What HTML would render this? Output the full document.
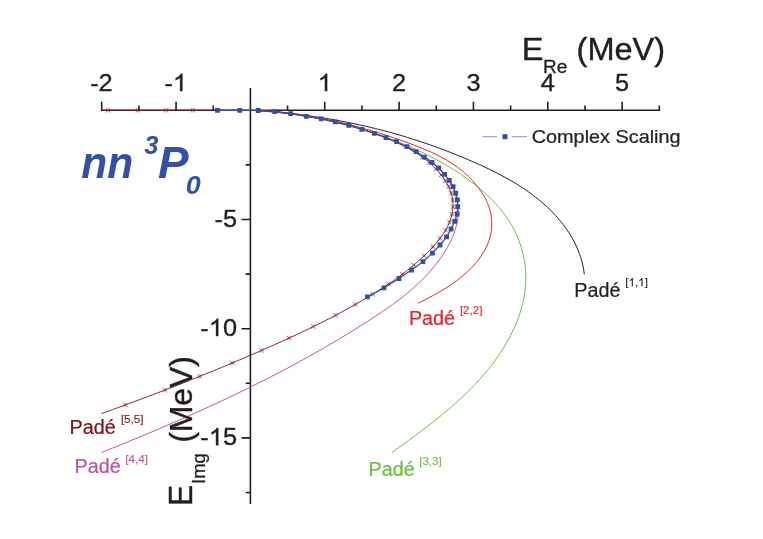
<!DOCTYPE html>
<html><head><meta charset="utf-8"><title>nn 3P0 resonance trajectory</title>
<style>html,body{margin:0;padding:0;background:#fff;}svg{display:block;will-change:transform;font-family:"Liberation Sans",sans-serif;}text{font-family:"Liberation Sans",sans-serif;}</style></head><body>
<svg width="763" height="539" viewBox="0 0 763 539">
<rect width="763" height="539" fill="#fff"/>
<g stroke="#231f20" stroke-width="1.60" fill="none" stroke-linecap="butt">
<path d="M100.90 110.30 H660.12"/>
<path d="M250.40 88.02 V504.08"/>
<path d="M101.70 110.30 v-8.60M138.88 110.30 v-4.80M176.05 110.30 v-8.60M213.23 110.30 v-4.80M287.57 110.30 v-4.80M324.75 110.30 v-8.60M361.93 110.30 v-4.80M399.10 110.30 v-8.60M436.27 110.30 v-4.80M473.45 110.30 v-8.60M510.62 110.30 v-4.80M547.80 110.30 v-8.60M584.98 110.30 v-4.80M622.15 110.30 v-8.60M659.32 110.30 v-4.80"/>
<path d="M250.40 164.90 h-4.80M250.40 219.50 h-8.80M250.40 274.10 h-4.80M250.40 328.70 h-8.80M250.40 383.30 h-4.80M250.40 437.90 h-8.80M250.40 492.50 h-4.80"/>
</g>
<g fill="none" stroke-width="1.00" stroke-linejoin="round">
<path stroke="#231f20" d="M250.4 110.3L253.4 110.5L256.4 110.6L259.5 110.8L262.5 111.0L265.5 111.2L268.5 111.5L271.5 111.7L274.6 112.0L277.6 112.2L280.6 112.5L283.6 112.8L286.6 113.1L289.6 113.4L292.6 113.8L295.6 114.1L298.6 114.5L301.6 114.8L304.6 115.2L307.6 115.6L310.6 116.0L313.5 116.5L316.5 116.9L319.5 117.4L322.5 117.8L325.5 118.3L328.4 118.8L331.4 119.3L334.4 119.8L337.3 120.4L340.3 120.9L343.3 121.5L346.2 122.1L349.2 122.7L352.1 123.3L355.1 123.9L358.0 124.5L360.9 125.2L363.9 125.8L366.8 126.5L369.8 127.2L372.7 127.9L375.6 128.6L378.5 129.4L381.4 130.1L384.4 130.9L387.3 131.6L390.2 132.4L393.1 133.2L396.0 134.1L398.9 134.9L401.8 135.7L404.7 136.6L407.6 137.5L410.4 138.4L413.3 139.3L416.2 140.2L419.1 141.1L421.9 142.1L424.8 143.0L427.7 144.0L430.5 145.0L433.4 146.0L436.2 147.0L439.1 148.1L441.9 149.1L444.7 150.2L447.6 151.3L450.4 152.4L453.2 153.5L456.0 154.6L458.8 155.8L461.7 156.9L464.5 158.1L467.3 159.3L470.1 160.5L472.8 161.7L475.6 162.9L478.4 164.2L481.2 165.4L484.0 166.7L486.7 168.0L489.5 169.3L492.2 170.7L494.9 172.0L497.6 173.4L500.3 174.8L503.0 176.3L505.7 177.7L508.3 179.2L511.0 180.7L513.6 182.2L516.2 183.8L518.7 185.4L521.3 187.0L523.8 188.6L526.3 190.3L528.7 192.0L531.2 193.8L533.6 195.6L535.9 197.4L538.3 199.3L540.6 201.2L542.9 203.1L545.1 205.1L547.3 207.1L549.4 209.1L551.6 211.2L553.6 213.4L555.7 215.6L557.7 217.8L559.6 220.1L561.5 222.4L563.4 224.8L565.2 227.2L566.9 229.6L568.6 232.1L570.2 234.7L571.7 237.3L573.2 239.9L574.6 242.5L575.9 245.2L577.2 248.0L578.3 250.8L579.4 253.6L580.4 256.4L581.3 259.3L582.1 262.2L582.8 265.2L583.4 268.2L583.9 271.2L584.3 274.3"/>
<path stroke="#6cbd45" d="M250.4 110.3L253.4 110.4L256.4 110.5L259.4 110.7L262.5 110.8L265.5 111.0L268.5 111.2L271.5 111.5L274.5 111.7L277.5 112.0L280.4 112.3L283.4 112.6L286.4 113.0L289.4 113.3L292.4 113.7L295.3 114.1L298.3 114.6L301.3 115.0L304.2 115.5L307.2 116.0L310.1 116.5L313.1 117.0L316.0 117.6L319.0 118.1L321.9 118.7L324.8 119.4L327.7 120.0L330.7 120.6L333.6 121.3L336.5 122.0L339.4 122.7L342.3 123.5L345.2 124.2L348.1 125.0L350.9 125.8L353.8 126.6L356.7 127.4L359.6 128.3L362.4 129.2L365.3 130.1L368.1 131.0L371.0 131.9L373.8 132.8L376.6 133.8L379.5 134.8L382.3 135.8L385.1 136.8L387.9 137.9L390.7 138.9L393.5 140.0L396.3 141.1L399.1 142.2L401.8 143.4L404.6 144.5L407.4 145.7L410.1 146.9L412.9 148.1L415.6 149.3L418.3 150.6L421.0 151.8L423.7 153.1L426.4 154.5L429.1 155.8L431.8 157.2L434.5 158.6L437.1 160.0L439.8 161.4L442.4 162.9L445.0 164.4L447.6 166.0L450.2 167.5L452.8 169.1L455.3 170.7L457.9 172.4L460.4 174.1L462.9 175.8L465.4 177.5L467.9 179.3L470.4 181.1L472.8 183.0L475.2 184.8L477.6 186.8L480.0 188.7L482.3 190.7L484.5 192.7L486.8 194.8L489.0 196.8L491.1 199.0L493.3 201.1L495.3 203.3L497.3 205.6L499.3 207.8L501.2 210.1L503.1 212.5L504.9 214.8L506.6 217.3L508.2 219.7L509.8 222.2L511.4 224.7L512.8 227.3L514.2 229.9L515.5 232.6L516.7 235.3L517.9 238.0L519.0 240.7L520.0 243.5L520.9 246.3L521.8 249.1L522.5 251.9L523.2 254.8L523.8 257.7L524.4 260.6L524.8 263.5L525.2 266.4L525.5 269.4L525.7 272.3L525.8 275.3L525.8 278.2L525.8 281.2L525.6 284.2L525.4 287.1L525.1 290.1L524.7 293.0L524.3 296.0L523.7 298.9L523.1 301.8L522.4 304.7L521.6 307.6L520.8 310.5L519.9 313.4L518.9 316.2L517.9 319.1L516.8 321.9L515.6 324.7L514.4 327.5L513.1 330.2L511.8 332.9L510.5 335.6L509.1 338.3L507.6 341.0L506.1 343.6L504.6 346.2L503.0 348.7L501.4 351.3L499.8 353.8L498.1 356.3L496.4 358.7L494.6 361.1L492.8 363.6L491.0 365.9L489.1 368.3L487.2 370.6L485.3 372.9L483.4 375.2L481.4 377.5L479.4 379.8L477.3 382.0L475.3 384.2L473.2 386.4L471.1 388.5L468.9 390.7L466.8 392.8L464.6 394.9L462.4 397.0L460.2 399.0L457.9 401.1L455.7 403.1L453.4 405.1L451.1 407.1L448.8 409.1L446.5 411.1L444.2 413.0L441.8 414.9L439.5 416.9L437.1 418.8L434.7 420.6L432.4 422.5L430.0 424.4L427.6 426.2L425.2 428.0L422.8 429.9L420.4 431.7L418.0 433.5L415.6 435.3L413.2 437.0L410.8 438.8L408.4 440.6L406.0 442.3L403.6 444.0L401.2 445.8L398.8 447.5L396.4 449.2L394.1 450.9L391.7 452.6"/>
<path stroke="#e8232b" d="M250.4 110.3L253.5 110.4L256.5 110.5L259.6 110.6L262.7 110.8L265.7 110.9L268.7 111.1L271.8 111.3L274.8 111.6L277.8 111.8L280.8 112.1L283.8 112.4L286.7 112.8L289.7 113.1L292.7 113.5L295.6 113.9L298.6 114.3L301.6 114.7L304.5 115.2L307.4 115.6L310.4 116.1L313.3 116.6L316.2 117.1L319.1 117.7L322.0 118.3L324.9 118.8L327.8 119.5L330.7 120.1L333.6 120.7L336.5 121.4L339.4 122.0L342.3 122.7L345.2 123.5L348.1 124.2L351.0 124.9L353.8 125.7L356.7 126.5L359.6 127.3L362.5 128.1L365.3 128.9L368.2 129.7L371.1 130.6L374.0 131.5L376.8 132.3L379.7 133.2L382.6 134.2L385.5 135.1L388.4 136.0L391.2 137.0L394.1 138.0L397.0 138.9L399.9 139.9L402.8 140.9L405.7 142.0L408.6 143.0L411.4 144.1L414.3 145.2L417.2 146.3L420.0 147.4L422.9 148.6L425.7 149.8L428.5 151.0L431.3 152.2L434.0 153.5L436.8 154.9L439.5 156.2L442.1 157.7L444.8 159.1L447.4 160.6L449.9 162.2L452.4 163.8L454.9 165.5L457.4 167.2L459.7 169.0L462.1 170.8L464.3 172.7L466.6 174.6L468.7 176.7L470.8 178.8L472.9 180.9L474.9 183.2L476.8 185.5L478.6 187.9L480.3 190.3L482.0 192.8L483.6 195.4L485.0 198.0L486.4 200.7L487.6 203.4L488.6 206.2L489.6 209.0L490.4 211.8L491.0 214.7L491.4 217.6L491.7 220.5L491.8 223.4L491.7 226.3L491.5 229.3L491.1 232.2L490.5 235.0L489.8 237.9L488.9 240.7L487.9 243.5L486.7 246.2L485.4 248.9L484.0 251.5L482.4 254.1L480.8 256.6L479.0 259.1L477.1 261.5L475.1 263.8L473.1 266.1L470.9 268.4L468.7 270.5L466.4 272.7L464.1 274.7L461.7 276.7L459.3 278.7L456.8 280.6L454.3 282.4L451.7 284.2L449.2 285.9L446.6 287.6L444.0 289.2L441.4 290.8L438.8 292.3L436.2 293.8L433.6 295.2L431.0 296.6L428.4 298.0L425.8 299.4L423.2 300.7L420.7 302.0L418.2 303.3"/>
<path stroke="#bd52a3" stroke-width="1.0" d="M250.4 110.3L253.4 110.5L256.5 110.7L259.5 110.9L262.6 111.2L265.6 111.4L268.6 111.7L271.6 111.9L274.6 112.2L277.6 112.5L280.6 112.8L283.6 113.2L286.6 113.5L289.5 113.9L292.5 114.3L295.5 114.7L298.4 115.1L301.4 115.5L304.3 116.0L307.3 116.5L310.2 116.9L313.1 117.5L316.1 118.0L319.0 118.5L321.9 119.1L324.8 119.7L327.7 120.3L330.6 120.9L333.5 121.6L336.4 122.2L339.3 122.9L342.2 123.6L345.1 124.4L348.0 125.1L350.9 125.9L353.7 126.7L356.6 127.6L359.5 128.4L362.3 129.3L365.2 130.2L368.0 131.1L370.9 132.1L373.7 133.1L376.6 134.1L379.4 135.1L382.3 136.2L385.1 137.3L388.0 138.4L390.8 139.5L393.6 140.7L396.4 141.9L399.3 143.1L402.1 144.4L404.9 145.7L407.7 147.0L410.4 148.4L413.2 149.8L415.9 151.3L418.6 152.8L421.2 154.4L423.8 156.0L426.3 157.7L428.8 159.4L431.2 161.2L433.5 163.1L435.8 165.1L437.9 167.1L440.0 169.2L442.1 171.3L444.0 173.6L445.8 175.9L447.5 178.4L449.1 180.9L450.6 183.4L452.0 186.0L453.2 188.7L454.4 191.4L455.4 194.2L456.2 197.0L456.9 199.8L457.5 202.7L457.8 205.6L458.1 208.4L458.2 211.3L458.1 214.2L457.9 217.0L457.5 219.9L457.0 222.8L456.3 225.6L455.6 228.4L454.7 231.3L453.7 234.1L452.6 236.9L451.4 239.6L450.1 242.4L448.7 245.1L447.2 247.8L445.6 250.5L444.0 253.1L442.2 255.7L440.5 258.3L438.6 260.8L436.7 263.3L434.8 265.7L432.8 268.1L430.8 270.5L428.8 272.8L426.7 275.0L424.6 277.3L422.5 279.4L420.3 281.6L418.1 283.7L415.9 285.7L413.7 287.7L411.4 289.7L409.1 291.7L406.8 293.6L404.5 295.5L402.1 297.3L399.8 299.1L397.4 300.9L395.0 302.7L392.6 304.5L390.1 306.2L387.7 307.9L385.3 309.6L382.8 311.3L380.3 313.0L377.8 314.7L375.3 316.3L372.8 318.0L370.3 319.6L367.8 321.2L365.3 322.8L362.8 324.4L360.3 326.0L357.7 327.6L355.2 329.2L352.7 330.8L350.1 332.4L347.6 333.9L345.0 335.5L342.5 337.0L339.9 338.6L337.3 340.1L334.7 341.7L332.2 343.2L329.6 344.7L327.0 346.2L324.4 347.7L321.8 349.2L319.2 350.7L316.6 352.2L313.9 353.7L311.3 355.1L308.7 356.6L306.1 358.0L303.4 359.5L300.8 360.9L298.2 362.4L295.5 363.8L292.9 365.2L290.2 366.7L287.6 368.1L284.9 369.5L282.3 370.9L279.6 372.3L276.9 373.7L274.2 375.1L271.6 376.4L268.9 377.8L266.2 379.2L263.5 380.5L260.8 381.9L258.1 383.2L255.4 384.6L252.7 385.9L250.0 387.3L247.3 388.6L244.6 389.9L241.9 391.2L239.2 392.6L236.5 393.9L233.8 395.2L231.0 396.5L228.3 397.8L225.6 399.0L222.9 400.3L220.1 401.6L217.4 402.9L214.7 404.1L211.9 405.4L209.2 406.7L206.4 407.9L203.7 409.2L201.0 410.4L198.2 411.7L195.5 412.9L192.7 414.1L190.0 415.4L187.2 416.6L184.4 417.8L181.7 419.0L178.9 420.2L176.2 421.4L173.4 422.6L170.6 423.8L167.9 425.0L165.1 426.2L162.4 427.4L159.6 428.6L156.8 429.8L154.1 430.9L151.3 432.1L148.5 433.3L145.8 434.4L143.0 435.6L140.2 436.7L137.4 437.9L134.7 439.1L131.9 440.2L129.1 441.3L126.4 442.5L123.6 443.6L120.8 444.8L118.0 445.9L115.3 447.0L112.5 448.1L109.7 449.3L106.9 450.4L104.2 451.5L101.4 452.6"/>
<path stroke="#7e1016" stroke-width="0.9" d="M101.7 110.3 L250.4 110.3L253.4 110.4L256.4 110.5L259.4 110.7L262.4 110.8L265.4 111.0L268.4 111.3L271.4 111.5L274.3 111.8L277.3 112.1L280.3 112.4L283.3 112.8L286.3 113.1L289.3 113.5L292.2 113.9L295.2 114.4L298.2 114.8L301.1 115.3L304.1 115.8L307.1 116.3L310.0 116.8L313.0 117.4L315.9 118.0L318.9 118.5L321.8 119.2L324.8 119.8L327.7 120.4L330.6 121.1L333.5 121.8L336.5 122.5L339.4 123.2L342.3 123.9L345.2 124.7L348.1 125.4L351.0 126.2L353.9 127.0L356.8 127.8L359.6 128.7L362.5 129.6L365.4 130.5L368.2 131.4L371.0 132.3L373.9 133.3L376.7 134.3L379.5 135.4L382.3 136.4L385.1 137.6L387.9 138.7L390.6 139.8L393.4 141.1L396.1 142.3L398.8 143.6L401.5 144.9L404.2 146.2L406.9 147.6L409.5 149.1L412.1 150.6L414.7 152.1L417.2 153.7L419.7 155.4L422.2 157.1L424.6 158.9L427.0 160.7L429.3 162.7L431.6 164.6L433.8 166.7L435.9 168.9L438.0 171.1L440.0 173.4L441.9 175.8L443.7 178.2L445.3 180.8L446.9 183.3L448.3 186.0L449.5 188.7L450.6 191.4L451.5 194.2L452.2 197.1L452.7 200.0L452.9 202.9L453.0 205.8L452.8 208.8L452.4 211.7L451.9 214.7L451.1 217.6L450.2 220.4L449.1 223.2L447.9 225.9L446.5 228.6L445.0 231.2L443.3 233.7L441.6 236.2L439.8 238.6L437.9 241.0L436.0 243.4L433.9 245.7L431.9 247.9L429.8 250.1L427.7 252.3L425.6 254.4L423.4 256.5L421.2 258.6L419.0 260.6L416.7 262.6L414.5 264.6L412.2 266.5L409.9 268.4L407.5 270.3L405.2 272.1L402.8 273.9L400.4 275.7L398.0 277.5L395.5 279.3L393.1 281.0L390.6 282.7L388.1 284.4L385.6 286.0L383.1 287.6L380.6 289.3L378.1 290.9L375.5 292.5L373.0 294.0L370.4 295.6L367.9 297.2L365.3 298.7L362.7 300.2L360.1 301.7L357.5 303.2L354.9 304.7L352.3 306.2L349.7 307.6L347.1 309.1L344.4 310.5L341.8 312.0L339.2 313.4L336.5 314.8L333.9 316.2L331.2 317.6L328.5 319.0L325.9 320.3L323.2 321.7L320.5 323.0L317.8 324.4L315.1 325.7L312.4 327.0L309.7 328.3L307.0 329.7L304.3 330.9L301.6 332.2L298.9 333.5L296.2 334.8L293.4 336.1L290.7 337.3L288.0 338.6L285.2 339.8L282.5 341.1L279.8 342.3L277.0 343.6L274.3 344.8L271.5 346.0L268.8 347.2L266.0 348.4L263.3 349.7L260.5 350.9L257.8 352.1L255.0 353.3L252.3 354.5L249.5 355.6L246.8 356.8L244.0 358.0L241.2 359.2L238.5 360.4L235.7 361.5L232.9 362.7L230.2 363.9L227.4 365.0L224.6 366.2L221.9 367.3L219.1 368.5L216.3 369.6L213.5 370.8L210.8 371.9L208.0 373.0L205.2 374.2L202.4 375.3L199.6 376.4L196.9 377.5L194.1 378.6L191.3 379.7L188.5 380.9L185.7 382.0L182.9 383.1L180.1 384.2L177.3 385.3L174.5 386.3L171.7 387.4L169.0 388.5L166.2 389.6L163.4 390.7L160.6 391.7L157.7 392.8L154.9 393.9L152.1 395.0L149.3 396.0L146.5 397.1L143.7 398.1L140.9 399.2L138.1 400.2L135.3 401.3L132.5 402.3L129.6 403.4L126.8 404.4L124.0 405.4L121.2 406.5L118.4 407.5L115.5 408.5L112.7 409.5L109.9 410.6L107.1 411.6L104.2 412.6L101.4 413.6"/>
</g>
<path d="M105.9 108.0l4.6 4.6M105.9 112.6l4.6 -4.6M135.7 108.0l4.6 4.6M135.7 112.6l4.6 -4.6M163.7 108.0l4.6 4.6M163.7 112.6l4.6 -4.6M190.5 108.0l4.6 4.6M190.5 112.6l4.6 -4.6M420.2 155.0l4.6 4.6M420.2 159.6l4.6 -4.6M427.0 160.4l4.6 4.6M427.0 165.0l4.6 -4.6M433.6 166.6l4.6 4.6M433.6 171.2l4.6 -4.6M438.9 172.6l4.6 4.6M438.9 177.2l4.6 -4.6M443.0 178.5l4.6 4.6M443.0 183.1l4.6 -4.6M446.3 184.4l4.6 4.6M446.3 189.0l4.6 -4.6M448.9 190.9l4.6 4.6M448.9 195.5l4.6 -4.6M450.4 197.7l4.6 4.6M450.4 202.3l4.6 -4.6M450.6 204.6l4.6 4.6M450.6 209.2l4.6 -4.6M449.6 212.0l4.6 4.6M449.6 216.6l4.6 -4.6M447.2 219.9l4.6 4.6M447.2 224.5l4.6 -4.6M443.3 227.9l4.6 4.6M443.3 232.5l4.6 -4.6M437.7 236.0l4.6 4.6M437.7 240.6l4.6 -4.6M430.6 244.5l4.6 4.6M430.6 249.1l4.6 -4.6M421.9 253.4l4.6 4.6M421.9 258.0l4.6 -4.6M411.6 262.8l4.6 4.6M411.6 267.4l4.6 -4.6M400.2 271.9l4.6 4.6M400.2 276.5l4.6 -4.6M386.5 281.6l4.6 4.6M386.5 286.2l4.6 -4.6M370.4 291.9l4.6 4.6M370.4 296.5l4.6 -4.6M352.9 302.2l4.6 4.6M352.9 306.8l4.6 -4.6M333.2 313.0l4.6 4.6M333.2 317.6l4.6 -4.6M311.1 324.2l4.6 4.6M311.1 328.8l4.6 -4.6M286.7 335.8l4.6 4.6M286.7 340.4l4.6 -4.6M259.3 348.1l4.6 4.6M259.3 352.7l4.6 -4.6M229.9 360.7l4.6 4.6M229.9 365.3l4.6 -4.6M197.3 374.1l4.6 4.6M197.3 378.7l4.6 -4.6M162.5 387.8l4.6 4.6M162.5 392.4l4.6 -4.6M123.1 402.6l4.6 4.6M123.1 407.2l4.6 -4.6" stroke="#942a30" stroke-width="0.7" fill="none"/>
<path d="M108.2 108.0v4.6M105.9 110.3h4.6M138.0 108.0v4.6M135.7 110.3h4.6M166.0 108.0v4.6M163.7 110.3h4.6M192.8 108.0v4.6M190.5 110.3h4.6M422.5 155.0v4.6M420.2 157.3h4.6M429.3 160.4v4.6M427.0 162.7h4.6M435.9 166.6v4.6M433.6 168.9h4.6M441.2 172.6v4.6M438.9 174.9h4.6M445.3 178.5v4.6M443.0 180.8h4.6M448.6 184.4v4.6M446.3 186.7h4.6M451.2 190.9v4.6M448.9 193.2h4.6M452.7 197.7v4.6M450.4 200.0h4.6M452.9 204.6v4.6M450.6 206.9h4.6M451.9 212.0v4.6M449.6 214.3h4.6M449.5 219.9v4.6M447.2 222.2h4.6M445.6 227.9v4.6M443.3 230.2h4.6M440.0 236.0v4.6M437.7 238.3h4.6M432.9 244.5v4.6M430.6 246.8h4.6M424.2 253.4v4.6M421.9 255.7h4.6M413.9 262.8v4.6M411.6 265.1h4.6M402.5 271.9v4.6M400.2 274.2h4.6M388.8 281.6v4.6M386.5 283.9h4.6M372.7 291.9v4.6M370.4 294.2h4.6M355.2 302.2v4.6M352.9 304.5h4.6M335.5 313.0v4.6M333.2 315.3h4.6M313.4 324.2v4.6M311.1 326.5h4.6M289.0 335.8v4.6M286.7 338.1h4.6M261.6 348.1v4.6M259.3 350.4h4.6M232.2 360.7v4.6M229.9 363.0h4.6M199.6 374.1v4.6M197.3 376.4h4.6M164.8 387.8v4.6M162.5 390.1h4.6M125.4 402.6v4.6M123.1 404.9h4.6" stroke="#942a30" stroke-width="0.4" fill="none" opacity="0.7"/>
<path d="M217.5 110.3L239.8 110.3L258.2 110.5L274.7 111.7L290.6 113.7L306.3 116.4L321.2 118.9L335.4 121.9L348.9 125.4L361.8 129.4L374.3 133.4L386.0 137.6L396.6 141.7L406.9 146.7L416.1 151.6L424.3 157.2L432.0 162.5L438.6 168.0L444.6 174.3L449.3 180.4L453.1 186.6L455.7 193.1L457.4 199.8L457.7 206.7L457.1 214.0L454.7 221.4L451.1 229.0L446.6 236.9L440.0 245.0L432.4 253.1L422.9 261.7L411.5 270.0L399.0 278.5L383.9 287.9L367.4 296.9" stroke="#3350a6" stroke-width="1.2" fill="none" stroke-linejoin="round"/>
<path d="M215.10 107.90h4.80v4.80h-4.80zM237.40 107.90h4.80v4.80h-4.80zM255.80 108.10h4.80v4.80h-4.80zM272.30 109.30h4.80v4.80h-4.80zM288.20 111.30h4.80v4.80h-4.80zM303.90 114.00h4.80v4.80h-4.80zM318.80 116.50h4.80v4.80h-4.80zM333.00 119.50h4.80v4.80h-4.80zM346.50 123.00h4.80v4.80h-4.80zM359.40 127.00h4.80v4.80h-4.80zM371.90 131.00h4.80v4.80h-4.80zM383.60 135.20h4.80v4.80h-4.80zM394.20 139.30h4.80v4.80h-4.80zM404.50 144.30h4.80v4.80h-4.80zM413.70 149.20h4.80v4.80h-4.80zM421.90 154.80h4.80v4.80h-4.80zM429.60 160.10h4.80v4.80h-4.80zM436.20 165.60h4.80v4.80h-4.80zM442.20 171.90h4.80v4.80h-4.80zM446.90 178.00h4.80v4.80h-4.80zM450.70 184.20h4.80v4.80h-4.80zM453.30 190.70h4.80v4.80h-4.80zM455.00 197.40h4.80v4.80h-4.80zM455.30 204.30h4.80v4.80h-4.80zM454.70 211.60h4.80v4.80h-4.80zM452.30 219.00h4.80v4.80h-4.80zM448.70 226.60h4.80v4.80h-4.80zM444.20 234.50h4.80v4.80h-4.80zM437.60 242.60h4.80v4.80h-4.80zM430.00 250.70h4.80v4.80h-4.80zM420.50 259.30h4.80v4.80h-4.80zM409.10 267.60h4.80v4.80h-4.80zM396.60 276.10h4.80v4.80h-4.80zM381.50 285.50h4.80v4.80h-4.80zM365.00 294.50h4.80v4.80h-4.80z" fill="#3350a6"/>
<path d="M482.4 136.7H497.1M512.1 136.7H527.1" stroke="#7f9bd6" stroke-width="1" fill="none"/>
<rect x="502.5" y="134.2" width="5" height="5" fill="#3350a6"/>
<text transform="translate(531.70 143.00) scale(1.0450 1)" font-size="19.00" fill="#231f20" text-anchor="start" stroke="#231f20" stroke-width="0.25">Complex Scaling</text>
<text transform="translate(90.13 91.10) scale(1.0560 1)" font-size="24.00" fill="#231f20" stroke="#231f20" stroke-width="0.35">-2</text>
<text transform="translate(164.48 91.10) scale(1.0560 1)" font-size="24.00" fill="#231f20" stroke="#231f20" stroke-width="0.35">-</text>
<path transform="translate(172.92 91.10) scale(0.01238 -0.01172)" d="M763 0H583V1147Q518 1085 412.5 1023Q307 961 223 930V1104Q374 1175 487 1276Q600 1377 647 1472H763Z" fill="#231f20" stroke="#231f20" stroke-width="29.9"/>
<path transform="translate(317.70 91.10) scale(0.01238 -0.01172)" d="M763 0H583V1147Q518 1085 412.5 1023Q307 961 223 930V1104Q374 1175 487 1276Q600 1377 647 1472H763Z" fill="#231f20" stroke="#231f20" stroke-width="29.9"/>
<text transform="translate(392.05 91.10) scale(1.0560 1)" font-size="24.00" fill="#231f20" stroke="#231f20" stroke-width="0.35">2</text>
<text transform="translate(466.40 91.10) scale(1.0560 1)" font-size="24.00" fill="#231f20" stroke="#231f20" stroke-width="0.35">3</text>
<text transform="translate(540.75 91.10) scale(1.0560 1)" font-size="24.00" fill="#231f20" stroke="#231f20" stroke-width="0.35">4</text>
<text transform="translate(615.10 91.10) scale(1.0560 1)" font-size="24.00" fill="#231f20" stroke="#231f20" stroke-width="0.35">5</text>
<text transform="translate(214.47 226.80) scale(1.0560 1)" font-size="24.00" fill="#231f20" stroke="#231f20" stroke-width="0.35">-5</text>
<text transform="translate(200.37 336.00) scale(1.0560 1)" font-size="24.00" fill="#231f20" stroke="#231f20" stroke-width="0.35">-</text>
<path transform="translate(208.81 336.00) scale(0.01238 -0.01172)" d="M763 0H583V1147Q518 1085 412.5 1023Q307 961 223 930V1104Q374 1175 487 1276Q600 1377 647 1472H763Z" fill="#231f20" stroke="#231f20" stroke-width="29.9"/>
<text transform="translate(222.90 336.00) scale(1.0560 1)" font-size="24.00" fill="#231f20" stroke="#231f20" stroke-width="0.35">0</text>
<text transform="translate(200.37 445.20) scale(1.0560 1)" font-size="24.00" fill="#231f20" stroke="#231f20" stroke-width="0.35">-</text>
<path transform="translate(208.81 445.20) scale(0.01238 -0.01172)" d="M763 0H583V1147Q518 1085 412.5 1023Q307 961 223 930V1104Q374 1175 487 1276Q600 1377 647 1472H763Z" fill="#231f20" stroke="#231f20" stroke-width="29.9"/>
<text transform="translate(222.90 445.20) scale(1.0560 1)" font-size="24.00" fill="#231f20" stroke="#231f20" stroke-width="0.35">5</text>
<text transform="translate(521.80 60.40) scale(1.0560 1)" font-size="30.80" fill="#231f20" text-anchor="start" stroke="#231f20" stroke-width="0.4">E</text>
<text transform="translate(543.10 72.90) scale(1.0560 1)" font-size="18.00" fill="#231f20" text-anchor="start" stroke="#231f20" stroke-width="0.3">Re</text>
<text transform="translate(576.60 60.40) scale(1.0560 1)" font-size="30.80" fill="#231f20" text-anchor="start" stroke="#231f20" stroke-width="0.4">(MeV)</text>
<text transform="translate(192.00 506.00) rotate(-90) scale(1.0300 1.0560)" font-size="30.80" fill="#231f20" stroke="#231f20" stroke-width="0.40">E</text>
<text transform="translate(205.00 484.00) rotate(-90) scale(1.0300 1.0560)" font-size="18.00" fill="#231f20" stroke="#231f20" stroke-width="0.30">Img</text>
<text transform="translate(192.00 442.80) rotate(-90) scale(1.0350 1.0400)" font-size="30.80" fill="#231f20" stroke="#231f20" stroke-width="0.40">(MeV)</text>
<text transform="translate(81.30 177.90) scale(0.9550 1)" font-size="44.50" fill="#3350a6" text-anchor="start" font-weight="bold" font-style="italic">nn</text>
<text transform="translate(144.20 154.40) scale(1.0000 1)" font-size="25.50" fill="#3350a6" text-anchor="start" font-weight="bold" font-style="italic">3</text>
<text transform="translate(158.00 177.90) scale(1.0300 1)" font-size="44.50" fill="#3350a6" text-anchor="start" font-weight="bold" font-style="italic">P</text>
<text transform="translate(185.80 194.10) scale(1.0560 1)" font-size="25.50" fill="#3350a6" text-anchor="start" font-weight="bold" font-style="italic">0</text>
<text transform="translate(574.20 296.60) scale(1.0100 1)" font-size="19.60" fill="#231f20" text-anchor="start" stroke="#231f20" stroke-width="0.22">Padé</text>
<text transform="translate(625.30 286.30) scale(1.0000 1)" font-size="11.60" fill="#231f20" stroke="#231f20" stroke-width="0.12">[</text>
<path transform="translate(628.52 286.30) scale(0.00566 -0.00566)" d="M763 0H583V1147Q518 1085 412.5 1023Q307 961 223 930V1104Q374 1175 487 1276Q600 1377 647 1472H763Z" fill="#231f20" stroke="#231f20" stroke-width="21.2"/>
<text transform="translate(634.97 286.30) scale(1.0000 1)" font-size="11.60" fill="#231f20" stroke="#231f20" stroke-width="0.12">,</text>
<path transform="translate(638.20 286.30) scale(0.00566 -0.00566)" d="M763 0H583V1147Q518 1085 412.5 1023Q307 961 223 930V1104Q374 1175 487 1276Q600 1377 647 1472H763Z" fill="#231f20" stroke="#231f20" stroke-width="21.2"/>
<text transform="translate(644.65 286.30) scale(1.0000 1)" font-size="11.60" fill="#231f20" stroke="#231f20" stroke-width="0.12">]</text>
<text transform="translate(408.90 324.80) scale(1.0100 1)" font-size="19.60" fill="#e8232b" text-anchor="start" stroke="#e8232b" stroke-width="0.22">Padé</text>
<text transform="translate(459.90 314.40) scale(1.0000 1)" font-size="11.60" fill="#e8232b" stroke="#e8232b" stroke-width="0.12">[2,2]</text>
<text transform="translate(368.60 475.60) scale(1.0100 1)" font-size="19.60" fill="#6cbd45" text-anchor="start" stroke="#6cbd45" stroke-width="0.22">Padé</text>
<text transform="translate(419.20 465.00) scale(1.0000 1)" font-size="11.60" fill="#6cbd45" stroke="#6cbd45" stroke-width="0.12">[3,3]</text>
<text transform="translate(74.60 473.30) scale(1.0100 1)" font-size="19.60" fill="#bd52a3" text-anchor="start" stroke="#bd52a3" stroke-width="0.22">Padé</text>
<text transform="translate(125.30 462.60) scale(1.0000 1)" font-size="11.60" fill="#bd52a3" stroke="#bd52a3" stroke-width="0.12">[4,4]</text>
<text transform="translate(69.60 434.00) scale(1.0100 1)" font-size="19.60" fill="#7e1016" text-anchor="start" stroke="#7e1016" stroke-width="0.22">Padé</text>
<text transform="translate(120.90 423.40) scale(1.0000 1)" font-size="11.60" fill="#7e1016" stroke="#7e1016" stroke-width="0.12">[5,5]</text>
</svg></body></html>
